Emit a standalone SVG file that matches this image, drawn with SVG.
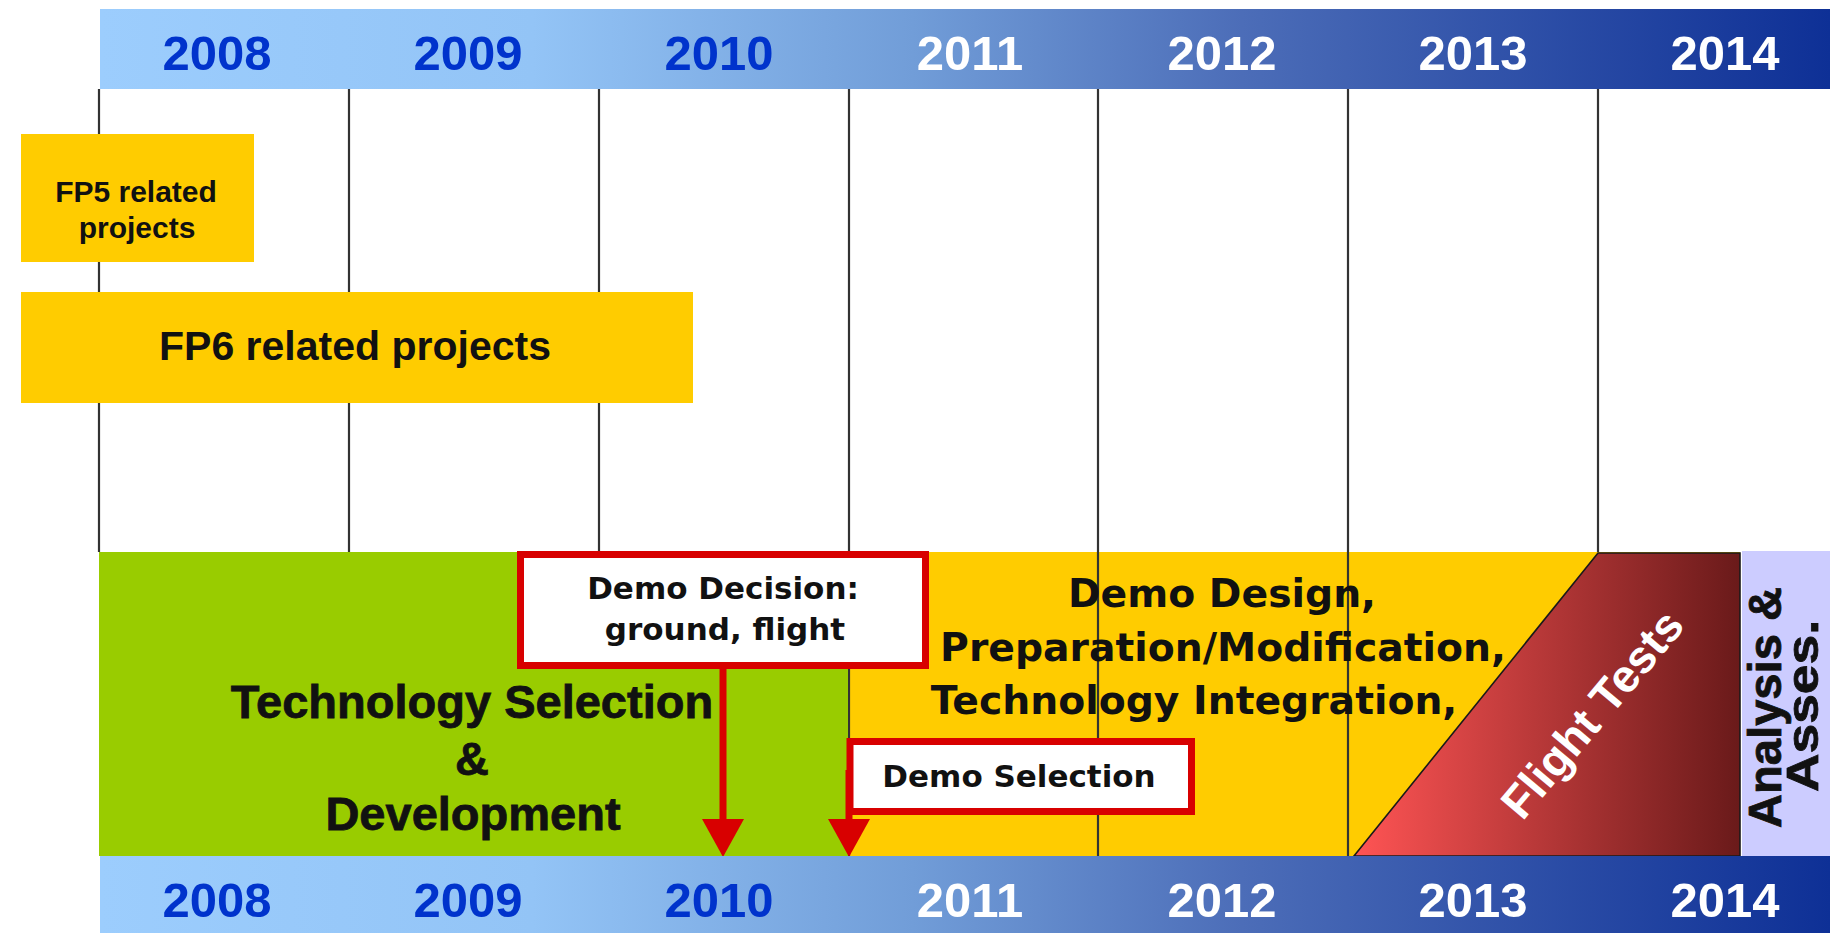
<svg xmlns="http://www.w3.org/2000/svg" width="1830" height="933" viewBox="0 0 1830 933">
<defs>
<linearGradient id="band" gradientUnits="userSpaceOnUse" x1="100" y1="0" x2="1830" y2="0">
<stop offset="0" stop-color="#9ccdfd"/>
<stop offset="0.25" stop-color="#93c4f6"/>
<stop offset="0.47" stop-color="#719dd8"/>
<stop offset="0.66" stop-color="#4c6db8"/>
<stop offset="1" stop-color="#0e3096"/>
</linearGradient>
<linearGradient id="flight" gradientUnits="userSpaceOnUse" x1="1354" y1="0" x2="1740" y2="0">
<stop offset="0" stop-color="#ff5454"/>
<stop offset="1" stop-color="#6a1a1a"/>
</linearGradient>
<marker id="ah" viewBox="0 0 38 42" refX="0" refY="21" markerWidth="38" markerHeight="42" markerUnits="userSpaceOnUse" orient="auto">
<path d="M0,0 L38,21 L0,42 Z" fill="#d80000"/>
</marker>
<style>
.yr{font-family:"Liberation Sans",Arial,sans-serif;font-weight:bold;font-size:49px;text-anchor:middle}
.bl{fill:#0033cc}
.wh{fill:#ffffff}
.vl{stroke:#333333;stroke-width:2.2}
.ar{font-family:"Liberation Sans",Arial,sans-serif;font-weight:bold;fill:#111111;text-anchor:middle}
.dv{font-family:"DejaVu Sans",Verdana,sans-serif;font-weight:bold;fill:#111111;text-anchor:middle}
.hv{stroke:#111111;stroke-width:0.8}
.rb{fill:#ffffff;stroke:#d80000;stroke-width:7}
.yel{fill:#ffcc00}
.conn{stroke:#d80000;stroke-width:7;fill:none}
</style>
</defs>
<rect x="0" y="0" width="1830" height="933" fill="#ffffff"/>

<g id="top-band">
<rect x="100" y="9" width="1730" height="80" fill="url(#band)"/>
<text class="yr bl" x="217" y="70">2008</text>
<text class="yr bl" x="468" y="70">2009</text>
<text class="yr bl" x="719" y="70">2010</text>
<text class="yr wh" x="970" y="70">2011</text>
<text class="yr wh" x="1222" y="70">2012</text>
<text class="yr wh" x="1473" y="70">2013</text>
<text class="yr wh" x="1725" y="70">2014</text>
</g>

<g id="demo-phase">
<rect x="849" y="552" width="891" height="304" class="yel"/>
</g>

<g id="grid">
<line class="vl" x1="99" y1="89" x2="99" y2="552"/>
<line class="vl" x1="349" y1="89" x2="349" y2="552"/>
<line class="vl" x1="599" y1="89" x2="599" y2="552"/>
<line class="vl" x1="849" y1="89" x2="849" y2="856"/>
<line class="vl" x1="1098" y1="89" x2="1098" y2="856"/>
<line class="vl" x1="1348" y1="89" x2="1348" y2="856"/>
<line class="vl" x1="1598" y1="89" x2="1598" y2="552"/>
</g>

<g id="tech-phase">
<rect x="99" y="552" width="749" height="304" fill="#99cc00"/>
<text class="ar hv" font-size="47" x="472" y="718">Technology Selection</text>
<text class="ar hv" font-size="47" x="472" y="775">&amp;</text>
<text class="ar hv" font-size="47" x="473" y="830">Development</text>
</g>

<g id="demo-text">
<text class="dv" font-size="39.3" x="1222" y="607">Demo Design,</text>
<text class="dv" font-size="39.3" x="1223" y="661">Preparation/Modification,</text>
<text class="dv" font-size="39.3" x="1194" y="714">Technology Integration,</text>
</g>

<g id="fp5">
<rect x="21" y="134" width="233" height="128" class="yel"/>
<text class="ar" font-size="30" x="136" y="202">FP5 related</text>
<text class="ar" font-size="30" x="137" y="238">projects</text>
</g>

<g id="fp6">
<rect x="21" y="292" width="672" height="111" class="yel"/>
<text class="ar" font-size="41" x="355" y="360">FP6 related projects</text>
</g>

<g id="flight-tests">
<polygon points="1598,553 1740,553 1740,856 1354,856" fill="url(#flight)" stroke="#1a1a1a" stroke-width="1.6"/>
<text font-family="Liberation Sans, Arial, sans-serif" font-weight="bold" font-size="46" fill="#ffffff" text-anchor="middle" transform="translate(1592,714) rotate(-50)" x="0" y="16">Flight Tests</text>
</g>

<g id="analysis">
<rect x="1742" y="551" width="88" height="305" fill="#ccccff"/>
<text class="ar hv" font-size="46" transform="translate(1781,707.5) rotate(-90)" x="0" y="0" textLength="241" lengthAdjust="spacingAndGlyphs">Analysis &amp;</text>
<text class="ar hv" font-size="44" transform="translate(1818,706) rotate(-90)" x="0" y="0" textLength="172" lengthAdjust="spacingAndGlyphs">Asses.</text>
</g>

<g id="connectors">
<line class="conn" x1="723" y1="669" x2="723" y2="819" marker-end="url(#ah)"/>
<line class="conn" x1="849" y1="770" x2="849" y2="819" marker-end="url(#ah)"/>
</g>

<g id="demo-decision">
<rect class="rb" x="520.5" y="554.5" width="405" height="111"/>
<text class="dv" font-size="31" x="723" y="599">Demo Decision:</text>
<text class="dv" font-size="31" x="725" y="640">ground, flight</text>
</g>

<g id="demo-selection">
<rect class="rb" x="850" y="741.5" width="341.5" height="70"/>
<text class="dv" font-size="31" x="1019" y="787">Demo Selection</text>
</g>

<g id="bottom-band">
<rect x="100" y="856" width="1730" height="77" fill="url(#band)"/>
<text class="yr bl" x="217" y="917">2008</text>
<text class="yr bl" x="468" y="917">2009</text>
<text class="yr bl" x="719" y="917">2010</text>
<text class="yr wh" x="970" y="917">2011</text>
<text class="yr wh" x="1222" y="917">2012</text>
<text class="yr wh" x="1473" y="917">2013</text>
<text class="yr wh" x="1725" y="917">2014</text>
</g>
</svg>
